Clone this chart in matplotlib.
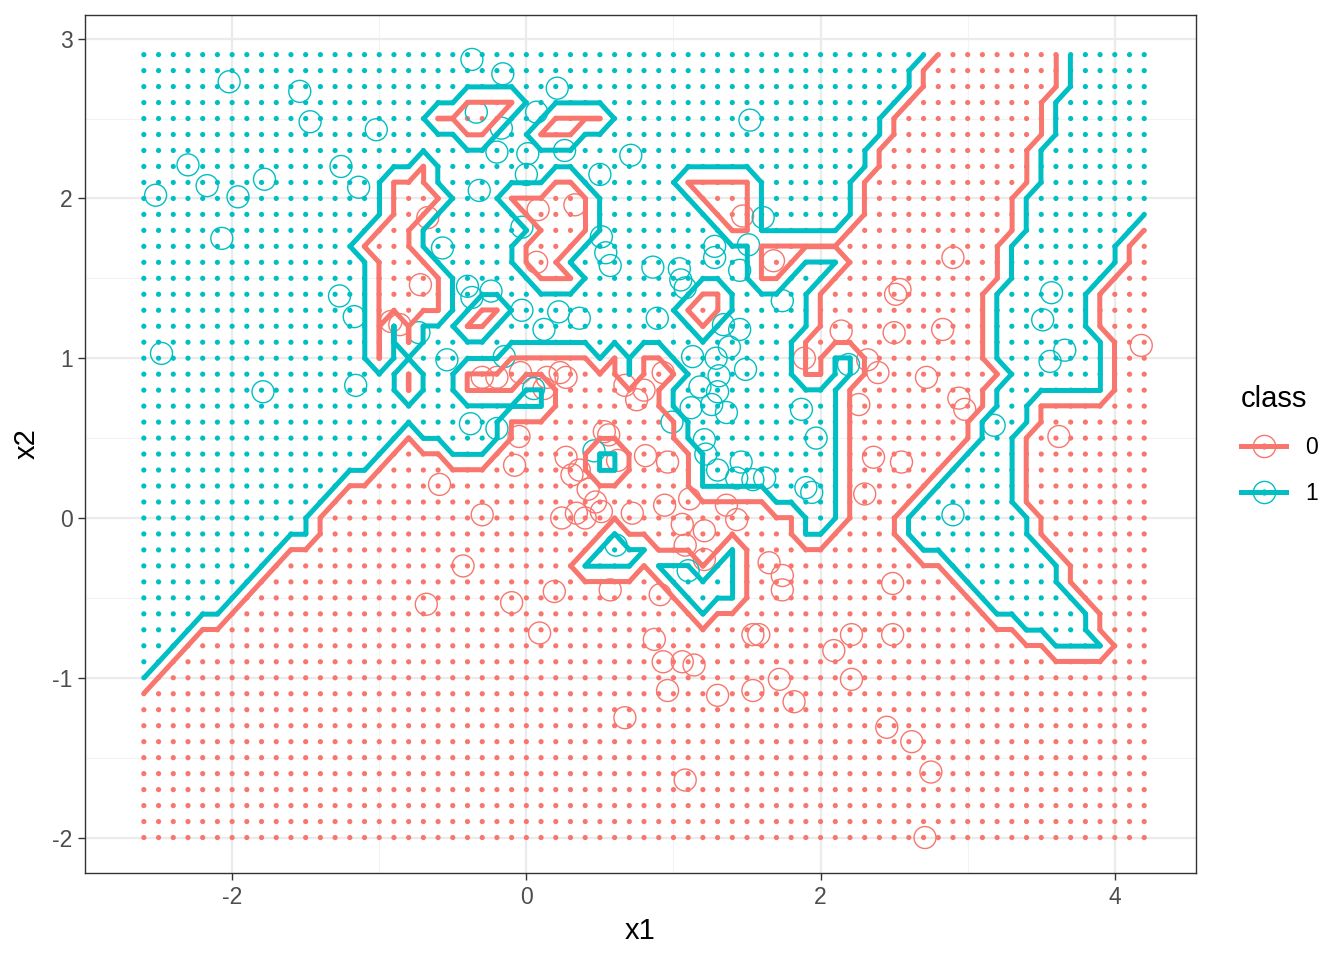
import numpy as np
import matplotlib
matplotlib.use("Agg")
import matplotlib.pyplot as plt
from matplotlib.lines import Line2D

plt.rcParams['font.family'] = ['Liberation Sans', 'DejaVu Sans']
plt.rcParams['axes.unicode_minus'] = False

red = '#F8766D'
teal = '#00BFC4'

# prediction grid: x1 = -2.6 .. 4.2, x2 = -2.0 .. 2.9 (step 0.1)
x1_grid = np.round(np.linspace(-2.6, 4.2, 69), 2)
x2_grid = np.round(np.linspace(-2.0, 2.9, 50), 2)

# class-1 (teal) runs of grid columns per row, top row (x2 = 2.9) first
teal_runs = [
    [(0, 53), (63, 68)],                                   # 2.9
    [(0, 52), (63, 68)],
    [(0, 52), (63, 68)],
    [(0, 21), (26, 51), (62, 68)],
    [(0, 19), (25, 27), (32, 50), (62, 68)],
    [(0, 21), (24, 26), (30, 50), (62, 68)],               # 2.4
    [(0, 49), (61, 68)],
    [(0, 18), (20, 49), (61, 68)],
    [(0, 16), (20, 27), (30, 36), (42, 48), (61, 68)],
    [(0, 16), (21, 24), (31, 37), (42, 48), (60, 68)],     # 2.0
    [(0, 16), (20, 25), (31, 38), (42, 48), (60, 68)],
    [(0, 15), (19, 26), (31, 39), (42, 47), (60, 67)],
    [(0, 14), (19, 25), (30, 41), (59, 66)],
    [(0, 15), (20, 25), (29, 41), (45, 47), (59, 66)],
    [(0, 15), (21, 26), (30, 41), (44, 46), (59, 65)],     # 1.5
    [(0, 15), (21, 37), (40, 45), (58, 64)],
    [(0, 15), (21, 22), (25, 36), (40, 45), (58, 64)],
    [(0, 15), (17, 17), (19, 21), (24, 37), (39, 45), (58, 64)],
    [(0, 15), (17, 17), (19, 44), (58, 65)],
    [(0, 15), (17, 24), (31, 31), (33, 33), (36, 44), (47, 48), (58, 65)],  # 1.0
    [(0, 17), (19, 21), (33, 33), (37, 44), (47, 48), (59, 65)],
    [(0, 17), (19, 21), (26, 27), (36, 47), (58, 65)],
    [(0, 27), (36, 47), (58, 60)],
    [(0, 24), (37, 47), (57, 60)],
    [(0, 17), (19, 24), (37, 47), (57, 59)],               # 0.5
    [(0, 16), (21, 23), (31, 32), (38, 47), (56, 59)],
    [(0, 15), (31, 32), (38, 47), (55, 59)],
    [(0, 13), (38, 47), (54, 59)],
    [(0, 12), (43, 47), (53, 59)],
    [(0, 11), (45, 47), (52, 60)],                         # 0.0
    [(0, 11), (32, 32), (45, 46), (52, 60)],
    [(0, 9), (31, 34), (40, 40), (53, 61)],
    [(0, 8), (30, 33), (35, 37), (39, 40), (55, 62)],
    [(0, 7), (36, 40), (56, 62)],
    [(0, 6), (37, 40), (57, 63)],                          # -0.5
    [(0, 5), (38, 38), (58, 64)],
    [(0, 3), (60, 64)],
    [(0, 2), (62, 65)],
    [(0, 1)],
    [(0, 0)],                                              # -1.0
    [], [], [], [], [], [], [], [], [], [],
]

# training points
x1_class0 = [-0.67, -0.72, -0.92, -0.30, -0.04, 0.14, 0.27, 0.07, 0.08, 0.33, 1.47, 1.68,
             2.90, 2.51, 2.54, 2.83, 2.50, 2.14, 1.89, 2.32, 2.39, 2.26, 2.72, 2.94, 2.98,
             3.62, 4.18, 2.36, 2.55, 2.30, 2.49, 2.49, 2.21, 2.09, 2.21, 2.45, 2.62, 2.75,
             2.71, 0.67, 1.08, 1.30, 1.54, 1.82, 1.72, 1.54, 1.58, 1.65, 1.74, 1.74, 0.87,
             0.93, 0.96, 1.06, 1.14, 0.91, 0.57, 0.19, -0.10, 0.09, -0.68, -0.43, -0.59,
             -0.30, -0.08, -0.05, 0.27, 0.31, 0.42, 0.34, 0.51, 0.72, 0.96, 0.81, 0.67,
             0.75, 0.93, 0.53, 0.94, 1.11, 1.06, 1.21, 1.36, 1.43, 1.08, 1.21, 0.23, 0.12,
             -0.20, 0.36, 0.56, 0.62, 0.80, 0.40, 0.47, 0.24, -0.86]
x2_class0 = [1.88, 1.46, 1.23, 0.88, 0.91, 0.88, 0.88, 1.60, 1.93, 1.96, 1.89, 1.61,
             1.63, 1.40, 1.43, 1.18, 1.16, 1.17, 1.00, 0.99, 0.91, 0.71, 0.88, 0.75, 0.68,
             0.51, 1.08, 0.38, 0.35, 0.15, -0.41, -0.73, -0.73, -0.83, -1.01, -1.31, -1.40,
             -1.59, -2.00, -1.25, -1.64, -1.11, -1.08, -1.15, -1.01, -0.73, -0.73, -0.28,
             -0.36, -0.45, -0.76, -0.90, -1.08, -0.90, -0.92, -0.48, -0.45, -0.46, -0.53,
             -0.72, -0.54, -0.30, 0.21, 0.02, 0.33, 0.51, 0.38, 0.27, 0.18, 0.03, 0.04, 0.03,
             0.35, 0.39, 0.83, 0.74, 0.91, 0.54, 0.08, 0.12, -0.04, -0.08, 0.08, -0.01,
             -0.17, -0.26, 0.91, 0.81, 0.88, 0.30, 0.52, 0.36, 0.80, 0.00, 0.10, 0.00, 1.21]

x1_class1 = [-2.52, -2.02, -2.30, -2.17, -1.96, -1.78, -2.07, -1.54, -1.47, -1.02, -1.26,
             -1.14, -1.27, -1.17, -1.16, -2.48, -1.79, -0.57, -0.73, -0.37, -0.16, -0.34,
             -0.17, 0.07, 0.01, -0.20, 0.21, 0.26, 0.50, 0.71, -0.32, 0.00, -0.03, -0.24,
             -0.37, 0.51, 0.54, 0.57, 0.86, 1.04, 1.08, 1.28, 1.28, 1.51, 1.45, 1.61, 1.52,
             1.74, 0.89, 1.34, 1.45, 1.13, 1.29, 1.31, 1.49, 1.30, 1.26, 1.36, 1.12, 1.21,
             1.46, 1.54, 1.62, 1.30, 1.90, 1.94, 1.87, 1.97, 2.19, 3.18, 2.90, 3.51, 3.57,
             3.56, 3.66, -0.38, -0.20, -0.54, -0.15, 0.05, 0.36, 0.61, 1.10, 1.43, 0.22,
             0.12, -0.03, -0.40, 0.46, 1.05, 1.18, 1.38, 0.99, 1.22]
x2_class1 = [2.02, 2.73, 2.21, 2.08, 2.01, 2.12, 1.75, 2.67, 2.48, 2.43, 2.20,
             2.07, 1.39, 1.26, 0.83, 1.03, 0.79, 1.69, 1.16, 2.87, 2.78, 2.54,
             2.44, 2.54, 2.28, 2.29, 2.69, 2.30, 2.15, 2.27, 2.05, 2.15, 1.82, 1.42,
             1.38, 1.76, 1.66, 1.58, 1.57, 1.56, 1.44, 1.70, 1.63, 1.71, 1.55, 1.88, 2.49,
             1.36, 1.25, 1.21, 1.18, 1.01, 1.00, 0.89, 0.93, 0.79, 0.71, 0.66, 0.69, 0.49,
             0.35, 0.24, 0.25, 0.30, 0.19, 0.16, 0.68, 0.50, 0.96, 0.58, 0.02, 1.24, 1.41,
             0.98, 1.05, 0.59, 0.56, 0.99, 1.01, 0.81, 1.25, -0.17, -0.33, 0.25, 1.29,
             1.18, 1.30, 1.45, 0.42, 1.49, 0.82, 1.07, 0.60, 0.40]

# build class grid
Z = np.zeros((len(x2_grid), len(x1_grid)))
for r, runs in enumerate(teal_runs):
    j = len(x2_grid) - 1 - r
    for a, b in runs:
        Z[j, a:b + 1] = 1
X1, X2 = np.meshgrid(x1_grid, x2_grid)

fig = plt.figure(figsize=(13.44, 9.6), dpi=100)
ax = fig.add_axes([85 / 1344, 1 - 873 / 960, (1196 - 85) / 1344, (873 - 15) / 960])

pt_col = np.where(Z.ravel() == 1, teal, red)
ax.scatter(X1.ravel(), X2.ravel(), s=14, c=pt_col, linewidths=0, zorder=2)

ax.scatter(x1_class0, x2_class0, s=250, facecolors='none', edgecolors=red, linewidths=1.0, zorder=3)
ax.scatter(x1_class1, x2_class1, s=250, facecolors='none', edgecolors=teal, linewidths=1.0, zorder=3)

ax.contour(X1, X2, Z, levels=[0.02], colors=red, linewidths=3.6, zorder=4)
ax.contour(X1, X2, Z, levels=[0.98], colors=teal, linewidths=3.6, zorder=4)

ax.set_xlim(-2.929, 4.552)
ax.set_ylim(-2.222, 3.148)
ax.set_xticks([-2, 0, 2, 4])
ax.set_yticks([-2, -1, 0, 1, 2, 3])
ax.set_xticks([-3, -1, 1, 3], minor=True)
ax.set_yticks([-1.5, -0.5, 0.5, 1.5, 2.5], minor=True)
ax.grid(which='major', color='#EBEBEB', linewidth=1.6, zorder=0)
ax.grid(which='minor', color='#F3F3F3', linewidth=0.8, zorder=0)
ax.set_axisbelow(True)
for s in ax.spines.values():
    s.set_color('#333333')
    s.set_linewidth(1.0)
ax.tick_params(which='major', length=5, width=1.0, color='#333333', labelsize=16.5,
               labelcolor='#4D4D4D', pad=4)
ax.tick_params(which='minor', length=0)
ax.set_xlabel('x1', fontsize=21, labelpad=6)
ax.set_ylabel('x2', fontsize=21, labelpad=8)

handles = [
    (Line2D([], [], color=red, linewidth=3.6, marker='o', markersize=16, markerfacecolor='none',
            markeredgecolor=red, markeredgewidth=1.0),
     Line2D([], [], linestyle='none', marker='o', markersize=3.5, color=red)),
    (Line2D([], [], color=teal, linewidth=3.6, marker='o', markersize=16, markerfacecolor='none',
            markeredgecolor=teal, markeredgewidth=1.0),
     Line2D([], [], linestyle='none', marker='o', markersize=3.5, color=teal)),
]
leg = fig.legend(handles, ['0', '1'], title='class', loc='center left',
                 bbox_to_anchor=(1220 / 1344, 1 - 445 / 960), frameon=False,
                 fontsize=16.5, title_fontsize=21, handlelength=2.0, labelspacing=1.0,
                 handletextpad=0.8)
leg._legend_box.align = 'left'

fig.savefig('out.png', dpi=100)
